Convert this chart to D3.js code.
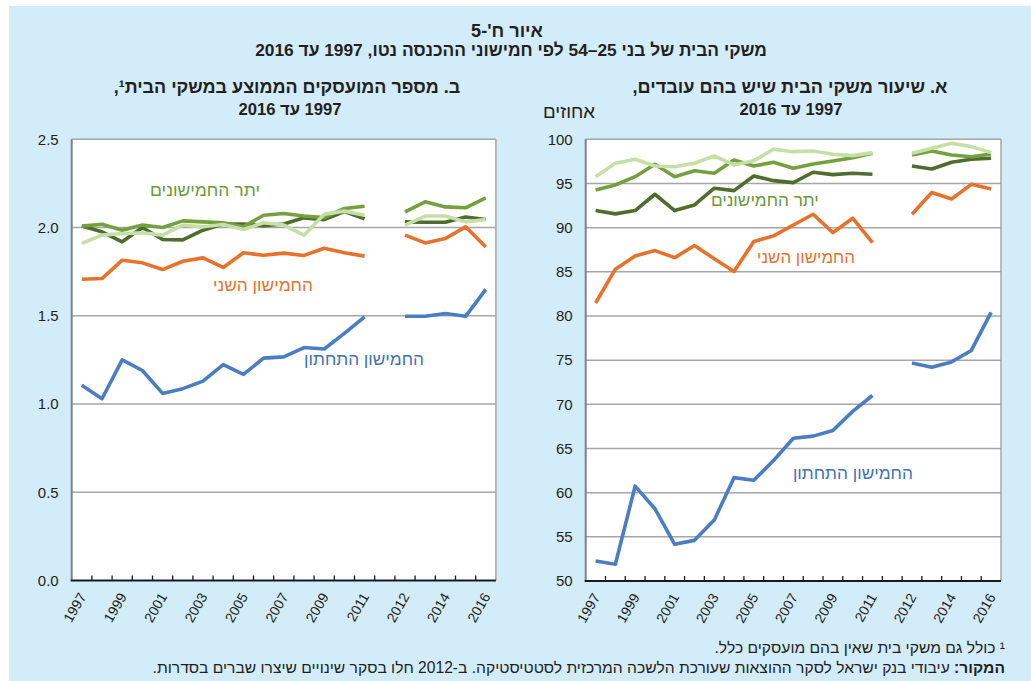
<!DOCTYPE html>
<html>
<head>
<meta charset="utf-8">
<script src="https://cdn.jsdelivr.net/npm/d3@7"></script>
<style>
  body { margin: 0; background: #fff; }
  svg { display: block; font-family: "Liberation Sans", "DejaVu Sans", sans-serif; }
</style>
</head>
<body>
<div id="chart"></div>
<script>
// categories: 1997-2011, a break, 2012-2016
const categories = ["1997","1998","1999","2000","2001","2002","2003","2004","2005","2006",
  "2007","2008","2009","2010","2011","","2012","2013","2014","2015","2016"];
const tickYears = ["1997","1999","2001","2003","2005","2007","2009","2011","2012","2014","2016"];

// panel B: average number of employed persons per household
const empBottom = [1.106,1.03,1.25,1.19,1.06,1.087,1.13,1.223,1.168,1.26,1.267,1.32,1.312,1.40,1.494,null,1.497,1.497,1.513,1.497,1.65];
const empSecond = [1.707,1.711,1.815,1.80,1.762,1.809,1.828,1.774,1.857,1.843,1.855,1.842,1.883,1.857,1.838,null,1.957,1.913,1.938,2.004,1.89];
const empDark   = [2.008,1.976,1.919,2.0,1.932,1.93,1.985,2.02,2.02,2.01,2.02,2.055,2.045,2.09,2.05,null,2.032,2.03,2.03,2.06,2.046];
const empMid    = [2.008,2.019,1.985,2.014,2.0,2.038,2.032,2.027,2.004,2.07,2.08,2.065,2.057,2.108,2.121,null,2.089,2.146,2.117,2.112,2.168];
const empLight  = [1.91,1.957,1.966,1.97,1.957,2.014,2.004,2.017,1.989,2.027,2.014,1.957,2.076,2.093,2.07,null,2.014,2.065,2.065,2.032,2.046];

// panel A: share of households with employed persons (percent)
const rateBottom = [52.26,51.9,60.74,58.18,54.15,54.6,56.9,61.7,61.4,63.64,66.16,66.4,67.03,69.2,71.0,null,74.68,74.19,74.8,76.1,80.4];
const rateSecond = [81.47,85.3,86.8,87.4,86.6,87.98,86.47,85.04,88.43,89.07,90.3,91.52,89.44,91.07,88.31,null,91.52,93.97,93.25,94.9,94.38];
const rateDark   = [91.93,91.56,91.93,93.78,91.93,92.57,94.46,94.19,95.85,95.32,95.1,96.27,96.0,96.16,96.04,null,96.98,96.64,97.4,97.74,97.85];
const rateMid    = [94.27,94.83,95.77,97.17,95.77,96.45,96.16,97.66,96.98,97.4,96.72,97.2,97.55,97.92,98.42,null,98.23,98.68,98.23,98.03,98.34];
const rateLight  = [95.77,97.29,97.74,96.98,96.9,97.29,98.11,97.1,97.58,98.87,98.6,98.68,98.3,98.15,98.49,null,98.42,98.98,99.55,99.17,98.49];

const seriesNames = ["החמישון התחתון", "החמישון השני", "יתר החמישונים"];

const W = 1031, H = 681;
const colors = {
  bottom: "#4a7ec1", second: "#e8712b",
  dark: "#4f6d2c", mid: "#75a03f", light: "#c5e0a6"
};

const svg = d3.select("#chart").append("svg")
  .attr("width", W).attr("height", H);

// light blue panel
svg.append("rect").attr("x", 9).attr("y", 6).attr("width", W - 9).attr("height", H - 6)
  .attr("fill", "#d3ecf9");

// scale a text's font size so that it spans the wanted width
function fit(sel, width) {
  const w = sel.node().getComputedTextLength();
  if (w > 0) sel.attr("font-size", +sel.attr("font-size") * width / w);
  return sel;
}

function rtlText(x, y, txt, size, weight, anchor, fill) {
  return svg.append("text")
    .attr("x", x).attr("y", y)
    .attr("direction", "rtl")
    .attr("text-anchor", anchor || "middle")
    .attr("font-size", size)
    .attr("font-weight", weight || "normal")
    .attr("fill", fill || "#231f20")
    .text(txt);
}

// titles
fit(rtlText(507, 37, "איור ח'-5", 15, "bold"), 72);
fit(rtlText(511, 56, "משקי הבית של בני 25–54 לפי חמישוני ההכנסה נטו, 1997  עד 2016", 15, "bold"), 512);
fit(rtlText(287, 93, "ב. מספר המועסקים הממוצע במשקי הבית¹,", 15, "bold"), 347);
fit(rtlText(290, 115, "1997 עד 2016", 15, "bold"), 103);
fit(rtlText(790, 93, "א. שיעור משקי הבית שיש בהם עובדים,", 15, "bold"), 315);
fit(rtlText(791, 115, "1997 עד 2016", 15, "bold"), 103);
fit(rtlText(569, 118, "אחוזים", 14, "normal"), 52);

function panel(p) {
  const g = svg.append("g");
  const x = d3.scaleBand().domain(d3.range(categories.length)).range([p.x0, p.x1]).padding(0);
  const xi = d3.scaleLinear().domain([0, categories.length]).range([p.x0, p.x1]);
  const y = d3.scaleLinear().domain(p.domain).range([p.yBottom, p.yTop]);

  g.append("rect").attr("x", p.x0).attr("y", p.yTop)
    .attr("width", p.x1 - p.x0).attr("height", p.yBottom - p.yTop).attr("fill", "#fff");

  const ticks = d3.range(p.domain[0], p.domain[1] + p.step / 2, p.step);
  g.selectAll(".grid").data(ticks.slice(1)).join("line")
    .attr("x1", p.x0).attr("x2", p.x1)
    .attr("y1", d => y(d)).attr("y2", d => y(d))
    .attr("stroke", "#a6a6a6").attr("stroke-width", 1.5);

  g.append("line").attr("x1", p.x1).attr("x2", p.x1)
    .attr("y1", p.yTop).attr("y2", p.yBottom)
    .attr("stroke", "#a6a6a6").attr("stroke-width", 1.5);

  // y axis
  g.append("line").attr("x1", p.x0).attr("x2", p.x0)
    .attr("y1", p.yTop).attr("y2", p.yBottom)
    .attr("stroke", "#808080").attr("stroke-width", 2);
  g.selectAll(".ylab").data(ticks).join("text")
    .attr("x", p.x0 - 13).attr("y", d => y(d)).attr("dy", "0.35em")
    .attr("text-anchor", "end").attr("font-size", 15).attr("fill", "#231f20")
    .text(p.format);

  // lines
  const line = d3.line()
    .defined(d => d.v != null)
    .x(d => x(d.i) + x.bandwidth() / 2)
    .y(d => y(d.v));
  p.series.forEach(s => {
    g.append("path")
      .attr("d", line(s.values.map((v, i) => ({ i, v }))))
      .attr("fill", "none").attr("stroke", s.color)
      .attr("stroke-width", 3.6).attr("stroke-linejoin", "round");
  });

  // x axis
  g.append("line").attr("x1", p.x0 - 1).attr("x2", p.x1)
    .attr("y1", p.yBottom).attr("y2", p.yBottom)
    .attr("stroke", "#1a1a1a").attr("stroke-width", 2);
  g.selectAll(".xt").data(d3.range(1, categories.length)).join("line")
    .attr("x1", d => xi(d)).attr("x2", d => xi(d))
    .attr("y1", p.yBottom).attr("y2", p.yBottom - 5)
    .attr("stroke", "#1a1a1a").attr("stroke-width", 1.3);
  const labelled = d3.range(categories.length).filter(i => tickYears.includes(categories[i]));
  g.selectAll(".xlab").data(labelled).join("text")
    .attr("transform", i => `translate(${x(i) + x.bandwidth() / 2 + 5},${p.yBottom + 16}) rotate(-60)`)
    .attr("text-anchor", "end").attr("font-size", 14).attr("fill", "#231f20")
    .text(i => categories[i]);

  // series labels
  p.labels.forEach(l => {
    const t = g.append("text")
      .attr("x", xi(l.at[0])).attr("y", y(l.at[1]))
      .attr("direction", "rtl").attr("text-anchor", "middle")
      .attr("font-size", 15).attr("fill", l.color)
      .text(l.text);
    fit(t, l.width);
  });
}

panel({
  x0: 71.7, x1: 495.9, yTop: 139.3, yBottom: 580.5,
  domain: [0, 2.5], step: 0.5, format: d3.format(".1f"),
  series: [
    { values: empDark, color: colors.dark },
    { values: empMid, color: colors.mid },
    { values: empLight, color: colors.light },
    { values: empSecond, color: colors.second },
    { values: empBottom, color: colors.bottom }
  ],
  labels: [
    { text: seriesNames[2], color: "#6a9a39", at: [6.6, 2.18], width: 110 },
    { text: seriesNames[1], color: colors.second, at: [9.47, 1.64], width: 100 },
    { text: seriesNames[0], color: "#3f72b3", at: [14.47, 1.22], width: 120 }
  ]
});

panel({
  x0: 585.7, x1: 1001, yTop: 139.3, yBottom: 581,
  domain: [50, 100], step: 5, format: d3.format("d"),
  series: [
    { values: rateDark, color: colors.dark },
    { values: rateMid, color: colors.mid },
    { values: rateLight, color: colors.light },
    { values: rateSecond, color: colors.second },
    { values: rateBottom, color: colors.bottom }
  ],
  labels: [
    { text: seriesNames[2], color: "#6a9a39", at: [9.06, 92.45], width: 108 },
    { text: seriesNames[1], color: colors.second, at: [11.14, 86.0], width: 98 },
    { text: seriesNames[0], color: "#3f72b3", at: [13.51, 61.55], width: 120 }
  ]
});

// footnotes
const src = svg.append("text").attr("x", 1005).attr("y", 673)
  .attr("direction", "rtl").attr("text-anchor", "start")
  .attr("font-size", 13).attr("fill", "#231f20");
src.append("tspan").attr("font-weight", "bold").text("המקור:");
src.append("tspan").text(" עיבודי בנק ישראל לסקר ההוצאות שעורכת הלשכה המרכזית לסטטיסטיקה. ב-2012 חלו בסקר שינויים שיצרו שברים בסדרות.");
fit(src, 853);
rtlText(1005, 653, "¹ כולל גם משקי בית שאין בהם מועסקים כלל.", +src.attr("font-size"), "normal", "start");
</script>
</body>
</html>
